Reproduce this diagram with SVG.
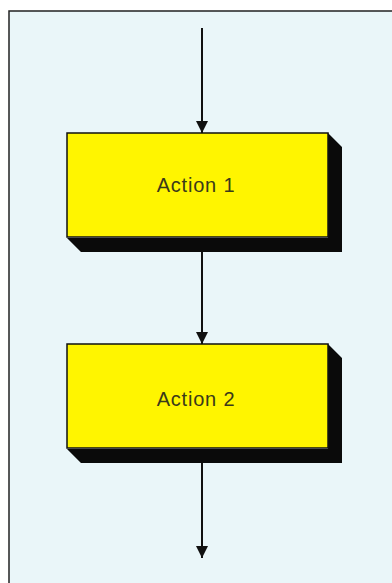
<svg xmlns="http://www.w3.org/2000/svg" width="392" height="583" viewBox="0 0 392 583">
  <defs>
    <style>
      .face { fill: #fff500; stroke: #111; stroke-width: 1.5; }
      .depth { fill: #0a0a0a; }
      .label { font-family: "Liberation Sans", Arial, sans-serif; font-size: 20px; letter-spacing: 0.8px; fill: #3a3a1a; text-anchor: middle; }
      .flow { stroke: #111; stroke-width: 2; fill: none; marker-end: url(#head); }
    </style>
    <marker id="head" viewBox="0 0 12 12" refX="12" refY="6" markerWidth="12" markerHeight="13" markerUnits="userSpaceOnUse" orient="auto">
      <path d="M0,0 L12,6 L0,12 Z" fill="#111"/>
    </marker>
  </defs>

  <!-- background and frame -->
  <rect x="0" y="0" width="392" height="583" fill="#ffffff"/>
  <rect x="9" y="11" width="400" height="590" fill="#eaf6f9" stroke="#222" stroke-width="1.5"/>

  <!-- connectors -->
  <g id="connectors">
    <line class="flow" x1="202" y1="28" x2="202" y2="133"/>
    <line class="flow" x1="202" y1="251" x2="202" y2="344"/>
    <line class="flow" x1="202" y1="462" x2="202" y2="558"/>
  </g>

  <g id="action1">
    <polygon class="depth" points="328,133 342,147 342,252 81,252 67,238 328,238"/>
    <rect class="face" x="67" y="133" width="261" height="104"/>
    <text class="label" x="196" y="192">Action 1</text>
  </g>

  <g id="action2">
    <polygon class="depth" points="328,344 342,358 342,463 81,463 67,449 328,449"/>
    <rect class="face" x="67" y="344" width="261" height="104"/>
    <text class="label" x="196" y="406">Action 2</text>
  </g>
</svg>
